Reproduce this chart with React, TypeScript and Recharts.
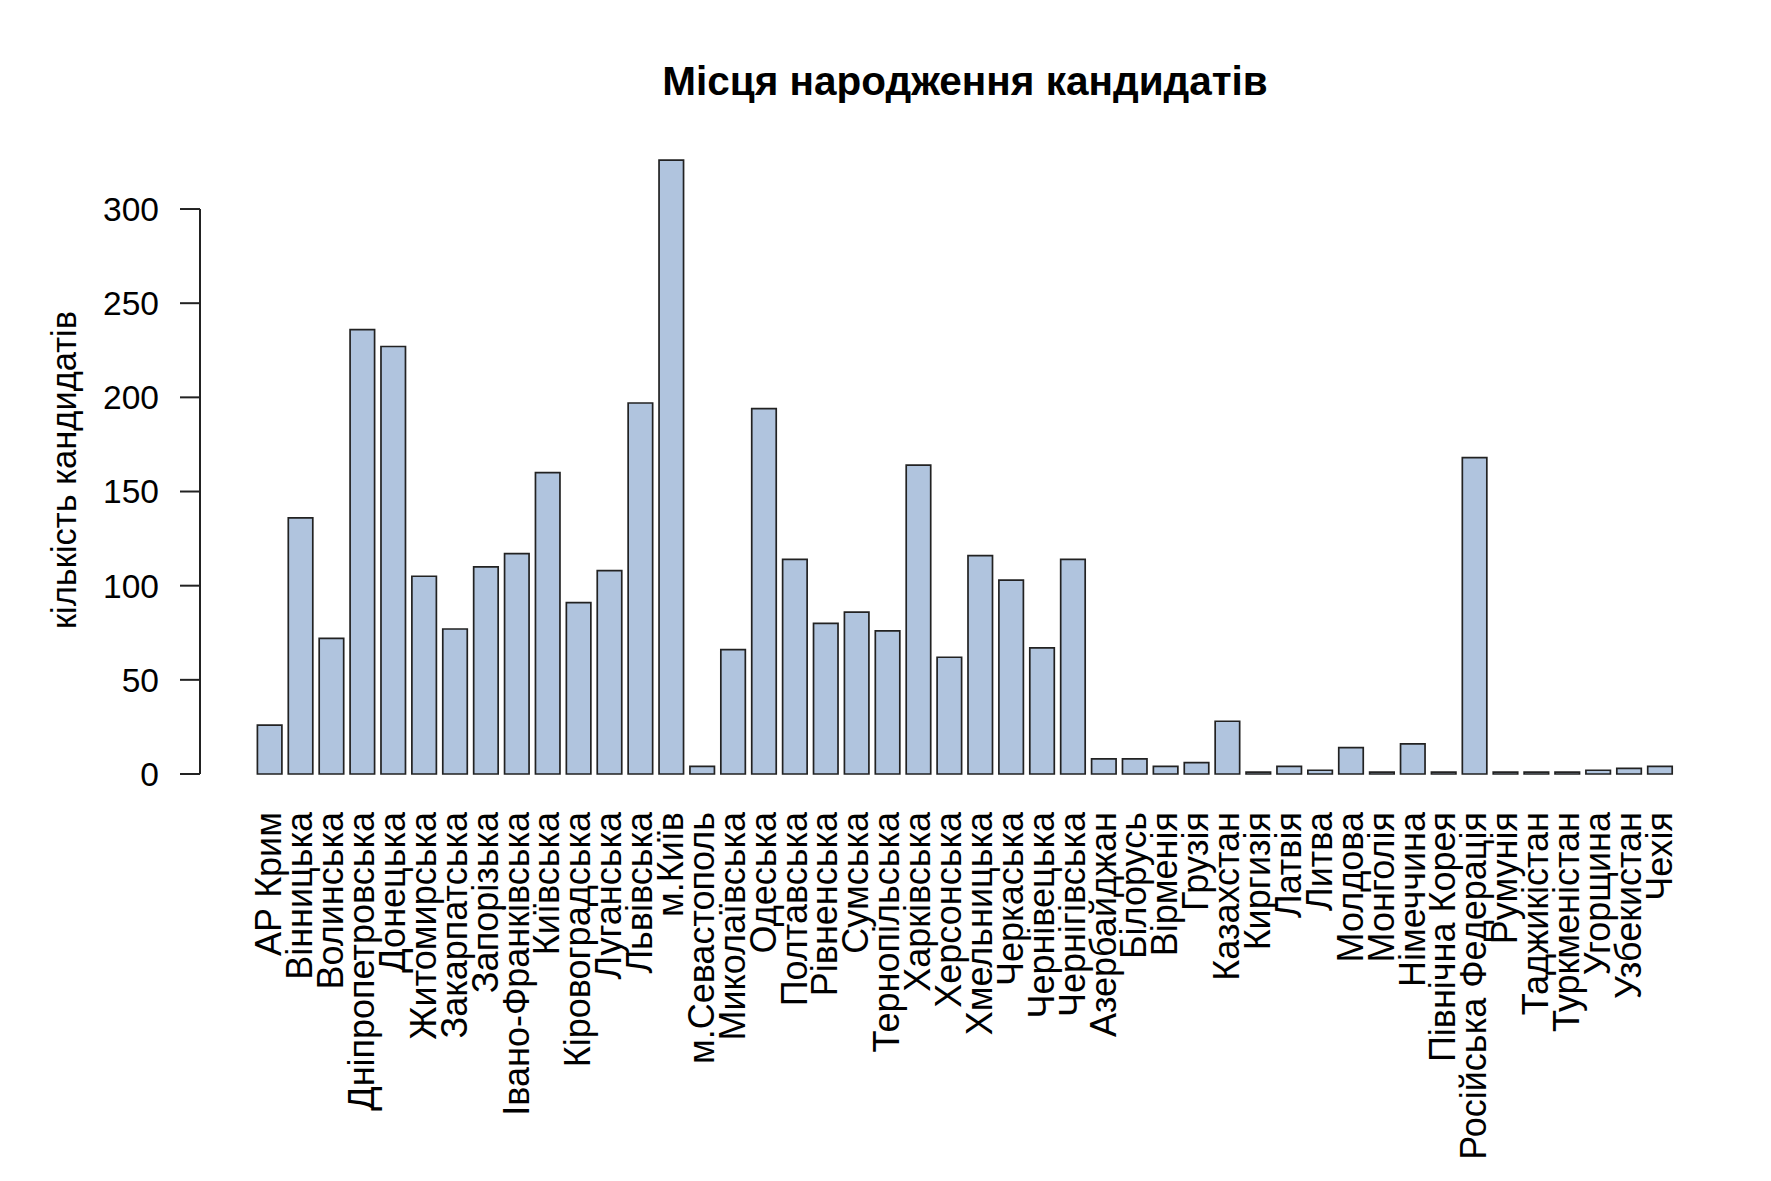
import { BarChart, Bar, XAxis, YAxis, ReferenceLine } from "recharts";

// місця народження (області України, потім країни)
const places = [
  "АР Крим", "Вінницька", "Волинська", "Дніпропетровська", "Донецька",
  "Житомирська", "Закарпатська", "Запорізька", "Івано-Франківська", "Київська",
  "Кіровоградська", "Луганська", "Львівська", "м.Київ", "м.Севастополь",
  "Миколаївська", "Одеська", "Полтавська", "Рівненська", "Сумська",
  "Тернопільська", "Харківська", "Херсонська", "Хмельницька", "Черкаська",
  "Чернівецька", "Чернігівська", "Азербайджан", "Білорусь", "Вірменія",
  "Грузія", "Казахстан", "Киргизія", "Латвія", "Литва",
  "Молдова", "Монголія", "Німеччина", "Північна Корея", "Російська Федерація",
  "Румунія", "Таджикістан", "Туркменістан", "Угорщина", "Узбекистан",
  "Чехія",
];

const candidates = [
  26, 136, 72, 236, 227,
  105, 77, 110, 117, 160,
  91, 108, 197, 326, 4,
  66, 194, 114, 80, 86,
  76, 164, 62, 116, 103,
  67, 114, 8, 8, 4,
  6, 28, 1, 4, 2,
  14, 1, 16, 1, 168,
  1, 1, 1, 2, 3,
  4,
];

const yTicks = [0, 50, 100, 150, 200, 250, 300];

const data = places.map((name, i) => ({ name, count: candidates[i] }));

const W = 1771;
const H = 1181;
const PLOT_LEFT = 200;
const FONT = '"Liberation Sans", Arial, Helvetica, sans-serif';
const INK = "#222";

function PlaceTick({ x, y, payload }: any) {
  return (
    <text
      x={x}
      y={y}
      transform={`rotate(-90, ${x}, ${y})`}
      textAnchor="end"
      dy="0.32em"
      fontSize={36}
      fill="#000"
      fontFamily={FONT}
    >
      {payload.value}
    </text>
  );
}

// вісь у R малюється лише від 0 до 300
function AxisSegment({ y1, y2 }: any) {
  return <line x1={PLOT_LEFT} x2={PLOT_LEFT} y1={y1} y2={y2} stroke={INK} strokeWidth={2} />;
}

export default function App() {
  return (
    <div
      style={{
        position: "absolute",
        left: 0,
        top: 0,
        width: W,
        height: H,
        background: "#fff",
        fontFamily: FONT,
      }}
    >
      <BarChart
        width={W}
        height={H}
        data={data}
        margin={{ top: 133.7, right: 41.4, bottom: 7, left: 0 }}
      >
        <XAxis
          dataKey="name"
          interval={0}
          height={400}
          axisLine={false}
          tickLine={false}
          tickSize={0}
          tickMargin={38}
          padding={{ left: 54.4, right: 54 }}
          tick={<PlaceTick />}
        />
        <YAxis
          width={200}
          domain={[0, 340]}
          ticks={yTicks}
          axisLine={false}
          tickLine={{ stroke: INK, strokeWidth: 2 }}
          tickSize={20}
          tickMargin={21}
          tick={{ fontSize: 33.5, fill: "#000", fontFamily: FONT }}
        />
        <ReferenceLine
          segment={[
            { x: places[0], y: 0 },
            { x: places[0], y: 300 },
          ]}
          shape={(p: any) => <AxisSegment {...p} />}
        />
        <Bar
          dataKey="count"
          fill="#B0C4DE"
          stroke={INK}
          strokeWidth={1.7}
          barSize={24.5}
          isAnimationActive={false}
        />
      </BarChart>

      <svg
        width={W}
        height={H}
        style={{ position: "absolute", left: 0, top: 0, pointerEvents: "none" }}
      >
        <text
          x={965}
          y={95}
          textAnchor="middle"
          fontSize={40.5}
          fontWeight="bold"
          fontFamily={FONT}
          fill="#000"
        >
          Місця народження кандидатів
        </text>
        <text
          x={76}
          y={470}
          transform="rotate(-90, 76, 470)"
          textAnchor="middle"
          fontSize={34.5}
          fontFamily={FONT}
          fill="#000"
        >
          кількість кандидатів
        </text>
      </svg>
    </div>
  );
}
